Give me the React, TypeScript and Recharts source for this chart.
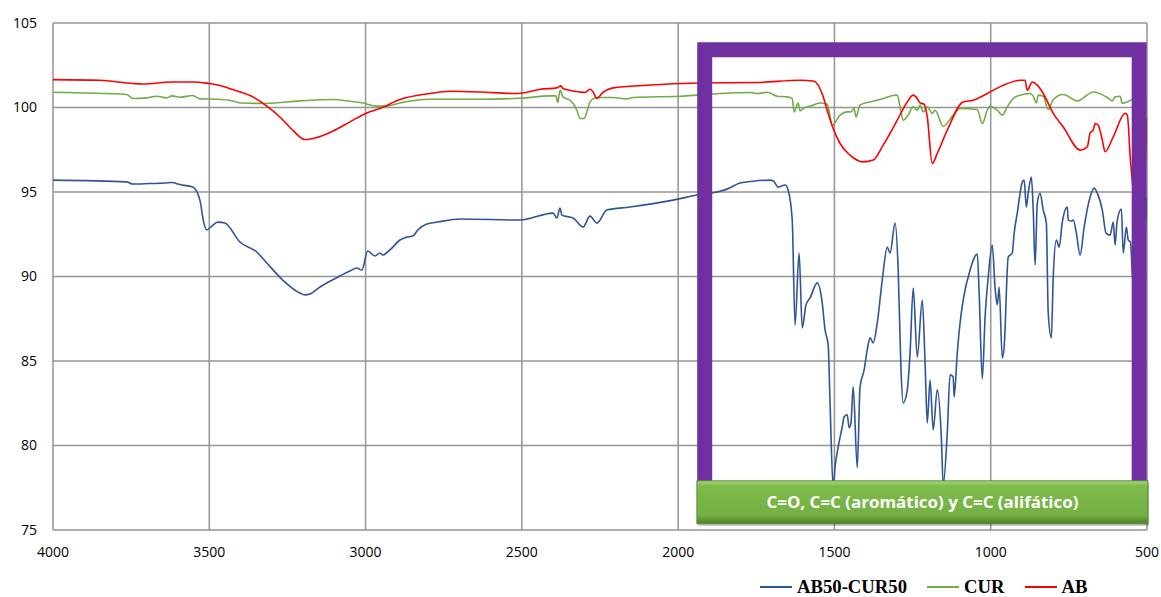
import React from 'react';
import { LineChart, Line, XAxis, YAxis, CartesianGrid, ReferenceArea, Legend } from 'recharts';

const xTicks = [4000, 3500, 3000, 2500, 2000, 1500, 1000, 500];
const yTicks = [75, 80, 85, 90, 95, 100, 105];

const blueWn = [4000,3764,3745,3690,3642,3620,3594,3553,3530,3518,3508,3492,3473,3450,3402,3348,3316,3265,3210,3194,3178,3146,3082,3050,3028,3012,2993,2970,2954,2945,2922,2890,2868,2849,2833,2804,2769,2698,2506,2400,2388,2378,2372,2336,2304,2282,2260,2228,2154,2016,1940,1866,1844,1802,1760,1706,1696,1680,1658,1648,1635,1626,1613,1603,1591,1578,1555,1539,1530,1520,1514,1504,1498,1488,1475,1469,1459,1453,1447,1440,1427,1418,1405,1395,1386,1376,1363,1347,1331,1322,1306,1296,1287,1280,1267,1258,1248,1235,1219,1210,1203,1194,1184,1171,1158,1152,1139,1130,1120,1117,1107,1098,1088,1066,1043,1037,1027,1018,1008,995,986,979,973,963,957,944,931,925,915,899,893,886,880,870,864,858,851,842,832,822,816,806,800,790,781,771,755,752,742,736,726,714,701,682,669,659,643,631,618,608,602,596,582,576,566,560,553,547,530,500];
const blueT = [95.70,95.60,95.47,95.50,95.53,95.56,95.44,95.29,94.52,93.22,92.75,92.98,93.22,93.16,92.04,91.45,90.80,89.79,89.02,88.91,88.96,89.38,90.03,90.33,90.50,90.38,91.51,91.21,91.39,91.27,91.57,92.16,92.33,92.39,92.75,93.10,93.22,93.40,93.34,93.75,93.46,94.05,93.63,93.46,92.93,93.57,93.16,93.93,94.11,94.52,94.82,95.05,95.17,95.53,95.64,95.70,95.67,95.29,95.41,95.11,93.34,87.13,91.39,86.96,88.32,88.73,89.62,88.43,86.84,85.95,82.52,77.50,78.74,79.92,81.11,81.70,81.82,81.05,81.34,83.47,78.68,83.47,84.47,85.66,86.37,86.07,87.25,89.79,91.74,91.39,93.16,90.38,84.47,82.52,83.28,85.48,89.32,85.24,88.61,84.89,81.34,83.88,80.93,83.29,80.51,77.68,80.75,84.18,84.06,82.88,85.48,87.25,88.61,90.38,91.33,89.02,83.94,87.61,89.97,91.86,89.32,88.32,89.38,85.18,85.83,91.15,91.39,92.57,93.75,95.59,95.70,94.11,94.93,95.88,93.93,90.68,94.34,94.93,93.93,93.16,87.84,86.37,89.97,92.16,91.74,93.22,94.11,93.34,93.28,93.34,92.57,91.27,92.93,94.70,95.23,94.93,93.93,92.57,92.45,93.22,91.86,93.22,93.99,91.39,92.93,92.16,92.04,90.21,88.0,94.7];

const greenWn = [4000,3764,3745,3700,3668,3636,3620,3594,3553,3530,3476,3425,3402,3316,3210,3105,3050,3009,2964,2932,2890,2794,2634,2506,2410,2391,2385,2378,2368,2346,2336,2324,2314,2301,2292,2282,2260,2208,2164,2144,1994,1866,1770,1748,1715,1683,1651,1635,1629,1616,1610,1600,1568,1546,1523,1507,1482,1459,1447,1437,1431,1418,1386,1354,1322,1299,1290,1280,1264,1248,1235,1226,1216,1203,1187,1178,1152,1120,1098,1043,1027,1011,1002,979,963,947,928,906,874,864,854,848,832,816,800,768,723,672,627,611,602,586,579,563,547,500];
const greenT = [100.90,100.77,100.53,100.57,100.67,100.57,100.69,100.61,100.71,100.51,100.49,100.39,100.27,100.24,100.39,100.47,100.37,100.27,100.08,100.08,100.27,100.49,100.49,100.55,100.69,100.69,100.30,101.02,100.63,100.43,100.24,99.84,99.35,99.35,99.74,100.33,100.59,100.59,100.51,100.59,100.67,100.83,100.89,100.83,100.90,100.67,100.63,100.53,99.74,100.27,99.80,99.94,100.14,100.27,100.19,98.95,99.55,99.74,99.74,99.94,99.44,100.14,100.33,100.47,100.67,100.74,100.04,99.25,99.55,100.04,99.84,100.14,99.74,100.04,99.66,99.84,98.89,99.55,99.94,99.88,99.05,99.84,100.08,99.84,99.55,100.04,100.53,100.73,100.83,100.67,100.27,100.73,100.67,99.88,100.47,100.77,100.39,100.92,100.59,100.39,100.63,100.67,100.24,100.33,100.47,100.6];

const redWn = [4000,3851,3745,3713,3617,3553,3508,3466,3425,3361,3316,3274,3233,3194,3156,3105,3050,2996,2954,2890,2794,2730,2634,2529,2497,2442,2388,2375,2368,2314,2298,2282,2272,2260,2244,2208,2100,1930,1748,1610,1568,1552,1536,1520,1504,1482,1450,1408,1376,1344,1299,1267,1248,1235,1226,1213,1203,1187,1171,1139,1088,1056,1002,960,906,890,883,867,851,832,800,768,714,691,682,672,666,656,643,634,608,570,563,553,544,520,500];
const redT = [101.65,101.61,101.42,101.39,101.51,101.51,101.44,101.30,101.06,100.63,100.08,99.44,98.66,98.11,98.23,98.60,99.15,99.68,99.94,100.47,100.83,100.96,100.92,100.83,100.86,101.08,101.16,101.28,101.12,100.92,100.89,101.08,100.92,100.53,100.83,101.16,101.32,101.45,101.48,101.61,101.57,101.32,100.63,99.65,98.76,97.87,97.18,96.78,96.89,97.77,99.25,100.33,100.73,100.53,100.27,100.19,99.44,96.69,97.28,98.66,100.33,100.43,100.92,101.32,101.61,101.61,101.02,101.51,101.32,100.83,99.65,98.85,97.48,97.67,98.50,98.66,99.05,98.95,98.07,97.38,98.26,99.65,99.55,96.89,95.11,93.0,99.37];

const seriesNames = ['AB50-CUR50', 'CUR', 'AB'];
const seriesColors = ['#2F5597', '#70AD47', '#FF0000'];
const bandLabel = 'C=O, C=C (aromático) y C=C (alifático)';

const toPoints = (wn: number[], t: number[]) => wn.map((x, i) => ({ x, y: t[i] }));
const blueData = toPoints(blueWn, blueT);
const greenData = toPoints(greenWn, greenT);
const redData = toPoints(redWn, redT);

const LabelBox = (props: any) => {
  const { x, y, width, height } = props;
  return (
    <g>
      <defs>
        <linearGradient id="lblGrad" x1="0" y1="0" x2="0" y2="1">
          <stop offset="0%" stopColor="#A6DB80" />
          <stop offset="12%" stopColor="#7DBB4B" />
          <stop offset="80%" stopColor="#74B044" />
          <stop offset="100%" stopColor="#4F7F2D" />
        </linearGradient>
      </defs>
      <rect x={x + 1} y={y + 2} width={width} height={height} fill="rgba(0,0,0,0.25)" />
      <rect x={x} y={y} width={width} height={height} fill="url(#lblGrad)" stroke="#5B8C38" strokeWidth={1} />
      <text
        x={x + width / 2}
        y={y + height / 2}
        textAnchor="middle"
        dominantBaseline="central"
        fill="#FFFFFF"
        fontFamily="'Open Sans', sans-serif"
        fontWeight="bold"
        fontSize={16}
        textLength={312}
        lengthAdjust="spacingAndGlyphs"
      >
        {bandLabel}
      </text>
    </g>
  );
};

const renderLegend = () => (
  <div style={{ display: 'flex', alignItems: 'center', paddingLeft: 760, paddingTop: 17, height: 20 }}>
    {seriesNames.map((n, i) => (
      <div key={n} style={{ display: 'flex', alignItems: 'center', marginRight: 20 }}>
        <svg width={32} height={4} style={{ marginRight: 5 }}>
          <line x1={0} y1={2} x2={32} y2={2} stroke={seriesColors[i]} strokeWidth={2} />
        </svg>
        <span style={{ fontFamily: "'Liberation Serif', 'Times New Roman', serif", fontWeight: 'bold', fontSize: 18.7, color: '#000', lineHeight: '20px' }}>{n}</span>
      </div>
    ))}
  </div>
);

export default function App() {
  const tickStyle = { fill: '#000', fontSize: 14, fontFamily: "'Open Sans', sans-serif" };
  return (
    <div style={{ position: 'absolute', left: 0, top: 0, width: 1161, height: 597, background: '#fff' }}>
      <LineChart width={1161} height={597} margin={{ top: 23, right: 14, left: 0, bottom: 0 }}>
        <CartesianGrid stroke="#959595" strokeWidth={1.5} />
        <XAxis
          dataKey="x"
          type="number"
          domain={[500, 4000]}
          reversed
          ticks={xTicks}
          allowDataOverflow
          axisLine={false}
          tickLine={false}
          tickSize={8}
          tickMargin={9}
          height={30}
          tick={tickStyle}
        />
        <YAxis
          type="number"
          domain={[75, 105]}
          ticks={yTicks}
          allowDataOverflow
          axisLine={false}
          tickLine={false}
          tickSize={8}
          tickMargin={8}
          width={53}
          tick={tickStyle}
        />
        <Line data={blueData} dataKey="y" name={seriesNames[0]} type="monotone" stroke={seriesColors[0]} strokeWidth={1.6} dot={false} isAnimationActive={false} />
        <Line data={greenData} dataKey="y" name={seriesNames[1]} type="monotone" stroke={seriesColors[1]} strokeWidth={1.6} dot={false} isAnimationActive={false} />
        <Line data={redData} dataKey="y" name={seriesNames[2]} type="monotone" stroke={seriesColors[2]} strokeWidth={1.6} dot={false} isAnimationActive={false} />
        <ReferenceArea x1={1915} x2={525} y1={76.8} y2={103.42} fill="none" fillOpacity={0} stroke="#7030A0" strokeWidth={15} ifOverflow="visible" zIndex={1500} />
        <ReferenceArea x1={1940} x2={497} y1={75.37} y2={77.91} ifOverflow="visible" shape={LabelBox} zIndex={1600} />
        <Legend verticalAlign="bottom" align="left" content={renderLegend} wrapperStyle={{ left: 0, width: 1161, height: 37 }} />
      </LineChart>
    </div>
  );
}
